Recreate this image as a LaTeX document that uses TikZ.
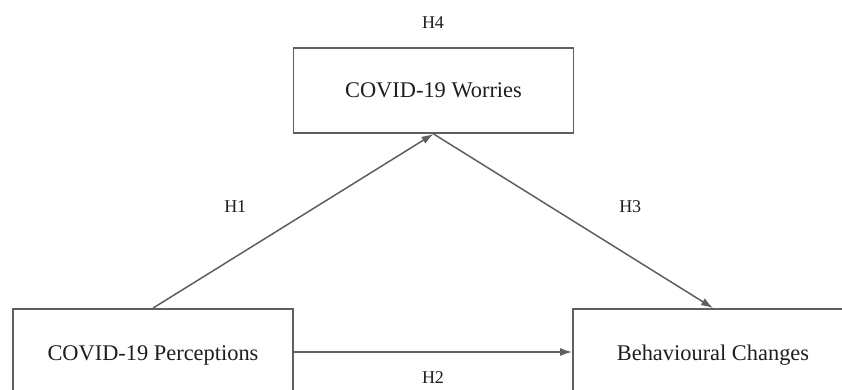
\documentclass[tikz,border=0pt]{standalone}
\usepackage{fontspec}
\setmainfont{Liberation Serif}
\usepackage{tikz}
\definecolor{linie}{RGB}{95,95,95}
\definecolor{schrift}{RGB}{30,30,30}
\usetikzlibrary{arrows.meta}

\begin{document}
\begin{tikzpicture}[x=0.5pt, y=0.5pt,
			>={Latex[length=6pt, width=4pt]},   %Pfeilspitzen
			kasten/.style={draw=linie, line width=0.9pt, minimum width=140pt, minimum height=#1, inner sep=0pt, text=schrift, font=\fontsize{11.2}{13}\selectfont},
			pfeil/.style={->, draw=linie, line width=0.75pt},
			hyp/.style={text=schrift, font=\fontsize{9}{11}\selectfont}]
			%Bildbereich
			\clip (0,0) rectangle (842,390);
			\fill[white] (0,0) rectangle (842,390);
			% Kaesten zeichnen
			\node[kasten=42.5pt] (worr) at (433.5,299.5) {COVID-19 Worries};
			\node[kasten=46pt] (perc) at (153,35) {COVID-19 Perceptions};
			\node[kasten=46pt] (beh) at (713,35) {Behavioural Changes};
			% Pfeile zeichnen
			\draw[pfeil] (perc.north) -- node[hyp, xshift=-29pt, yshift=7pt] {H1} (worr.south);
			\draw[pfeil] (worr.south) -- node[hyp, xshift=28.5pt, yshift=7pt] {H3} (beh.north);
			\draw[pfeil] ([yshift=1.5pt]perc.east) -- node[hyp, yshift=-13pt] {H2} ([yshift=1.5pt]beh.west);
			%Beschriftung
			\node[hyp] (h4) at (433,367) {H4};
		\end{tikzpicture}
\end{document}
